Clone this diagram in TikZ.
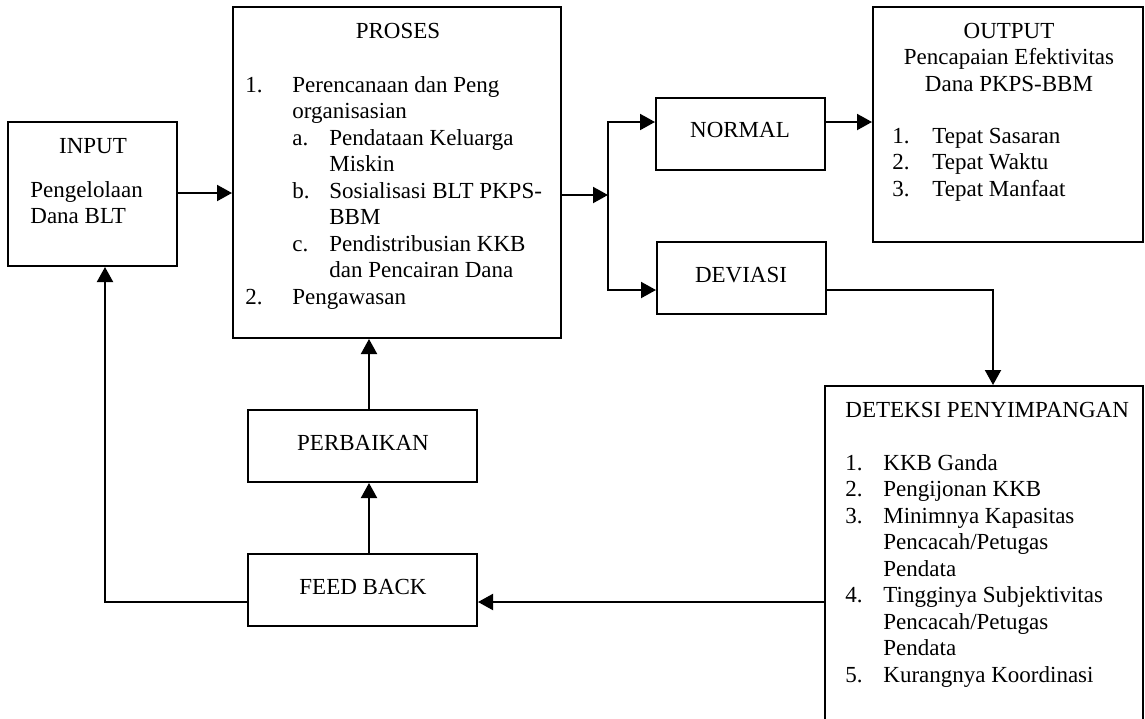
\documentclass[tikz,border=0pt]{standalone}
\usepackage{fontspec}
\setmainfont{Liberation Serif}
\usetikzlibrary{arrows.meta,fit}
\begin{document}
\begin{tikzpicture}[x=0.5pt,y=-0.5pt,
  box/.style={draw,line width=1pt,inner sep=0pt},
  lbl/.style={inner sep=0pt,font=\fontsize{11.5}{13.25}\selectfont},
  arr/.style={line width=1pt,-{Triangle[length=7.5pt,width=8pt]}},
  ln/.style={line width=1pt}]
\useasboundingbox (0,0) rectangle (1145,718);
\clip (0,0) rectangle (1145,718);
% boxes
\node[box,fit={(8,122)(177,266)}] (input) {};
\node[box,fit={(233,7)(561,338)}] (proses) {};
\node[box,fit={(656,98)(825,170)}] (normal) {};
\node[box,fit={(657,242)(826,314)}] (deviasi) {};
\node[box,fit={(873,7)(1143,242)}] (output) {};
\node[box,fit={(825,386)(1143,760)}] (deteksi) {};
\node[box,fit={(248,410)(477,482)}] (perbaikan) {};
\node[box,fit={(248,554)(477,626)}] (feedback) {};
% texts
\node[lbl,anchor=base] (tinput) at (93,153) {INPUT};
\node[lbl,anchor=base west] (tinput2) at (30,197) {\begin{tabular}[t]{@{}l@{}}Pengelolaan\\Dana BLT\end{tabular}};
\node[lbl,anchor=base] (tproses) at (398,38) {PROSES};
\node[lbl,anchor=base west] (lproses) at (245,92) {\begin{tabular}[t]{@{}p{23.5pt}@{}p{18.5pt}@{}l@{}}
1.& \multicolumn{2}{@{}l@{}}{Perencanaan dan Peng}\\
 & \multicolumn{2}{@{}l@{}}{organisasian}\\
 & a.& Pendataan Keluarga\\
 & & Miskin\\
 & b.& Sosialisasi BLT PKPS-\\
 & & BBM\\
 & c.& Pendistribusian KKB\\
 & & dan Pencairan Dana\\
2.& \multicolumn{2}{@{}l@{}}{Pengawasan}
\end{tabular}};
\node[lbl,anchor=base] (toutput) at (1009,38) {\begin{tabular}[t]{@{}c@{}}OUTPUT\\Pencapaian Efektivitas\\Dana PKPS-BBM\end{tabular}};
\node[lbl,anchor=base west] (loutput) at (892,143) {\begin{tabular}[t]{@{}p{20pt}@{}l@{}}1.&Tepat Sasaran\\2.&Tepat Waktu\\3.&Tepat Manfaat\end{tabular}};
\node[lbl,anchor=base] (tnormal) at (740,137) {NORMAL};
\node[lbl,anchor=base] (tdeviasi) at (741,282) {DEVIASI};
\node[lbl,anchor=base west] (tdeteksi) at (845,417) {DETEKSI PENYIMPANGAN};
\node[lbl,anchor=base west] (ldeteksi) at (845,470) {\begin{tabular}[t]{@{}p{19pt}@{}l@{}}
1.&KKB Ganda\\
2.&Pengijonan KKB\\
3.&Minimnya Kapasitas\\
 &Pencacah/Petugas\\
 &Pendata\\
4.&Tingginya Subjektivitas\\
 &Pencacah/Petugas\\
 &Pendata\\
5.&Kurangnya Koordinasi
\end{tabular}};
\node[lbl,anchor=base] (tperbaikan) at (363,450) {PERBAIKAN};
\node[lbl,anchor=base] (tfeedback) at (363,594) {FEED BACK};
% connector helper points
\coordinate (iy) at (0,193);
\coordinate (sp) at (608,195);
\coordinate (bt) at (608,122);
\coordinate (bb) at (608,290);
\coordinate (dx) at (993,386);
\coordinate (fy) at (105,602);
\coordinate (px) at (369,0);
% connectors
\draw[arr] (input.east |- iy) -- (proses.west |- iy);
\draw[arr] (proses.east |- sp) -- (sp);
\draw[arr] (bb) -- (bt) -- (normal.west |- bt);
\draw[arr] (bt) -- (bb) -- (deviasi.west |- bb);
\draw[arr] (normal.east |- bt) -- (output.west |- bt);
\draw[arr] (deviasi.east |- bb) -| (deteksi.north -| dx);
\draw[arr] (deteksi.west |- fy) -- (feedback.east |- fy);
\draw[arr] (feedback.west |- fy) -| (input.south -| fy);
\draw[arr] (feedback.north -| px) -- (perbaikan.south -| px);
\draw[arr] (perbaikan.north -| px) -- (proses.south -| px);
\end{tikzpicture}
\end{document}
